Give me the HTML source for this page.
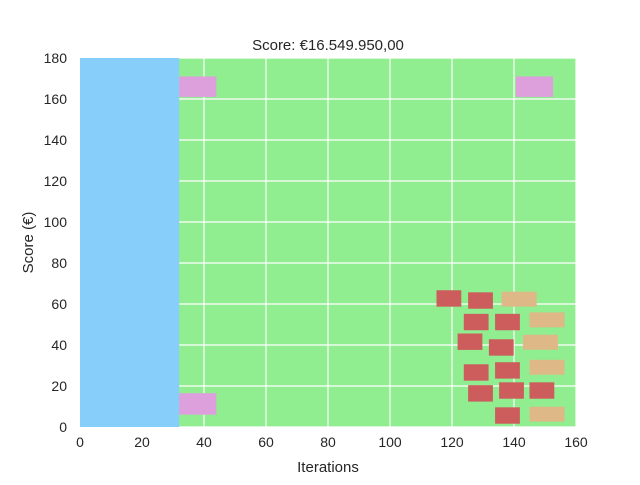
<!DOCTYPE html>
<html><head><meta charset="utf-8"><style>
body{margin:0;background:#fff;font-family:"Liberation Sans","DejaVu Sans",sans-serif;}
</style></head><body>
<svg id="chart" width="640" height="480" xmlns="http://www.w3.org/2000/svg"></svg>
<script>
const xTicks=[0,20,40,60,80,100,120,140,160];
const yTicks=[0,20,40,60,80,100,120,140,160,180];
const blueBlock=[[0,0,32,180]];
const pinkRects=[[32,161,12,10],[32,6,12,10.5],[140.6,161,12,10]];
const redRects=[[115,58.7],[125.2,57.7],[123.8,47.2],[133.9,47.2],[121.8,37.6],[131.9,34.8],[123.8,22.6],[133.9,23.6],[125.2,12.4],[135.2,13.8],[145,13.8],[133.9,1.6]];
const tanRects=[[136,58.7],[145,48.6],[142.9,37.7],[145,25.5],[145,2.6]];
const redSize=[8,8], tanSize=[11.3,7.3];
const L=80,R=576,T=58,B=427;
const sx=v=>L+(v-0)/160*(R-L), sy=v=>B-(v-0)/180*(B-T);
const svg=document.getElementById('chart');
const NS='http://www.w3.org/2000/svg';
function mk(tag,attrs,parent){const e=document.createElementNS(NS,tag);for(const k in attrs)e.setAttribute(k,attrs[k]);(parent||svg).appendChild(e);return e;}
let bg=mk('rect',{x:L,y:T,width:R-L,height:B-T,fill:'#90ee90'});


xTicks.forEach(t=>{const l=mk('line',{x1:sx(t),x2:sx(t),y1:T,y2:B,stroke:'#fff','stroke-width':1.2});


const tx=mk('text',{x:sx(t),y:B+20,'text-anchor':'middle','font-size':14,fill:'#262626'});tx.textContent=t;

});
yTicks.forEach(t=>{const l=mk('line',{x1:L,x2:R,y1:sy(t),y2:sy(t),stroke:'#fff','stroke-width':1.2});


const tx=mk('text',{x:L-13,y:sy(t)+5,'text-anchor':'end','font-size':14,fill:'#262626'});tx.textContent=t;

});
blueBlock.forEach(d=>{const r=mk('rect',{x:sx(d[0]),y:sy(d[1]+d[3]),width:sx(d[0]+d[2])-sx(d[0]),height:sy(d[1])-sy(d[1]+d[3]),fill:'#87cefa'});

});
pinkRects.forEach(d=>{const r=mk('rect',{x:sx(d[0]),y:sy(d[1]+d[3]),width:sx(d[0]+d[2])-sx(d[0]),height:sy(d[1])-sy(d[1]+d[3]),fill:'#dda0dd'});

});
redRects.forEach(d=>{const r=mk('rect',{x:sx(d[0]),y:sy(d[1]+redSize[1]),width:sx(d[0]+redSize[0])-sx(d[0]),height:sy(d[1])-sy(d[1]+redSize[1]),fill:'#cd5c5c'});

});
tanRects.forEach(d=>{const r=mk('rect',{x:sx(d[0]),y:sy(d[1]+tanSize[1]),width:sx(d[0]+tanSize[0])-sx(d[0]),height:sy(d[1])-sy(d[1]+tanSize[1]),fill:'#deb887'});

});
const title=mk('text',{x:(L+R)/2,y:50,'text-anchor':'middle','font-size':15,fill:'#262626'});title.textContent='Score: €16.549.950,00';


const xl=mk('text',{x:(L+R)/2,y:472,'text-anchor':'middle','font-size':15,fill:'#262626'});xl.textContent='Iterations';


const yl=mk('text',{x:0,y:0,'text-anchor':'middle','font-size':15,fill:'#262626',transform:'translate(33,'+((T+B)/2)+') rotate(-90)'});yl.textContent='Score (€)';


</script>
</body></html>
